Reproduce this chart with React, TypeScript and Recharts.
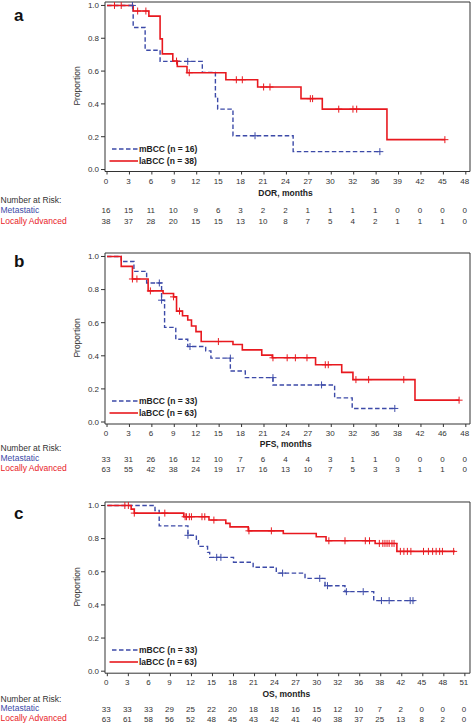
import React from 'react';
import { ComposedChart, Line, Scatter, XAxis, YAxis, Legend, ReferenceLine } from 'recharts';

const FONT = '"Liberation Sans", Arial, Helvetica, sans-serif';
const BLUE = '#3c4aa8';
const RED = '#e8191f';
const INK = '#333333';

// ---------- Panel a : DOR ----------
const aTickLabels = ['0', '3', '6', '9', '12', '15', '18', '21', '24', '27', '30', '32', '36', '39', '42', '45', '48'];
const aMetRisk = [16, 15, 11, 10, 9, 6, 3, 2, 2, 1, 1, 1, 1, 0, 0, 0, 0];
const aLaRisk = [38, 37, 28, 20, 15, 15, 13, 10, 8, 7, 5, 4, 2, 1, 1, 1, 0];
const aMetT = [0, 3.5, 5.1, 7.1, 12.75, 14.5, 14.8, 16.85, 24.9, 36.5];
const aMetS = [1, 0.866, 0.727, 0.659, 0.592, 0.444, 0.368, 0.206, 0.109, 0.109];
const aMetCensT = [3.4, 10.8, 19.8, 36.5];
const aMetCensS = [1, 0.659, 0.206, 0.109];
const aLaT = [0, 3.5, 5.6, 7.1, 7.4, 8.8, 9.4, 10.7, 15.9, 20.15, 25.95, 28.8, 37.45, 45.2];
const aLaS = [1, 0.966, 0.935, 0.796, 0.705, 0.661, 0.628, 0.59, 0.547, 0.503, 0.432, 0.368, 0.182, 0.182];
const aLaCensT = [1.0, 1.9, 4.1, 5.2, 9.3, 11.0, 17.3, 18.1, 20.95, 21.8, 27.2, 27.5, 31.0, 32.9, 33.4, 45.2];
const aLaCensS = [1, 1, 0.966, 0.966, 0.661, 0.59, 0.547, 0.547, 0.503, 0.503, 0.432, 0.432, 0.368, 0.368, 0.368, 0.182];

// ---------- Panel b : PFS ----------
const bTickLabels = ['0', '3', '6', '9', '12', '15', '18', '21', '24', '27', '30', '32', '36', '38', '42', '46', '48'];
const bMetRisk = [33, 31, 26, 16, 12, 10, 7, 6, 4, 4, 3, 1, 1, 0, 0, 0, 0];
const bLaRisk = [63, 55, 42, 38, 24, 19, 17, 16, 13, 10, 7, 5, 3, 3, 1, 1, 0];
const bMetT = [0, 1.9, 3.6, 5.3, 7.3, 7.7, 9.2, 10.8, 13.2, 13.9, 16.5, 18.5, 22.2, 30.45, 32.8, 38.5];
const bMetS = [1, 0.97, 0.91, 0.84, 0.736, 0.572, 0.5, 0.456, 0.43, 0.386, 0.308, 0.268, 0.224, 0.146, 0.082, 0.082];
const bMetCensT = [7.0, 7.3, 11.1, 16.5, 22.2, 28.7, 38.5];
const bMetCensS = [0.84, 0.736, 0.456, 0.386, 0.268, 0.224, 0.082];
const bLaT = [0, 1.9, 3.4, 5.5, 7.5, 8.9, 9.3, 10.1, 10.8, 11.3, 11.9, 12.6, 16.85, 18.1, 20.7, 22.1, 27.9, 31.4, 32.9, 41.2, 47.1];
const bLaS = [1, 0.94, 0.864, 0.792, 0.776, 0.756, 0.67, 0.642, 0.616, 0.58, 0.546, 0.486, 0.468, 0.436, 0.404, 0.388, 0.346, 0.3, 0.256, 0.132, 0.132];
const bLaCensT = [3.4, 4.0, 5.8, 8.9, 9.7, 14.9, 22.2, 24.1, 25.2, 26.75, 29.2, 29.6, 33.3, 35.0, 39.7, 47.1];
const bLaCensS = [0.864, 0.864, 0.792, 0.756, 0.67, 0.486, 0.388, 0.388, 0.388, 0.388, 0.346, 0.346, 0.256, 0.256, 0.256, 0.132];

// ---------- Panel c : OS ----------
const cTickLabels = ['0', '3', '6', '9', '12', '15', '18', '21', '24', '27', '30', '32', '36', '38', '42', '45', '48', '51'];
const cMetRisk = [33, 33, 33, 29, 25, 22, 20, 18, 18, 16, 15, 12, 10, 7, 2, 0, 0, 0];
const cLaRisk = [63, 61, 58, 56, 52, 48, 45, 43, 42, 41, 40, 38, 37, 25, 13, 8, 2, 0];
const cMetT = [0, 6.8, 7.4, 11.5, 12.7, 13.0, 14.3, 14.6, 18.0, 20.8, 24.1, 28.2, 31.05, 33.9, 38.0, 43.9];
const cMetS = [1, 0.97, 0.877, 0.82, 0.787, 0.753, 0.717, 0.687, 0.657, 0.627, 0.592, 0.56, 0.516, 0.48, 0.426, 0.426];
const cMetCensT = [11.5, 15.6, 16.2, 25.0, 30.3, 31.4, 34.1, 36.5, 39.1, 40.2, 43.2, 43.6];
const cMetCensS = [0.82, 0.687, 0.687, 0.592, 0.56, 0.516, 0.48, 0.48, 0.426, 0.426, 0.426, 0.426];
const cLaT = [0, 3.4, 3.85, 10.9, 14.5, 16.9, 17.5, 20.1, 25.1, 29.8, 31.2, 38.2, 41.3, 49.6];
const cLaS = [1, 0.978, 0.954, 0.932, 0.912, 0.892, 0.871, 0.847, 0.831, 0.811, 0.787, 0.771, 0.723, 0.723];
const cLaCensT = [2.5, 3.0, 3.85, 8.2, 11.1, 11.3, 11.7, 12.0, 13.5, 13.9, 15.2, 20.2, 23.4, 31.6, 33.9, 36.8, 37.4,
  38.8, 39.3, 39.6, 39.9, 40.2, 40.6, 40.9, 41.8, 42.3, 42.8, 43.3, 45.1, 45.8, 46.4, 46.9, 47.4, 47.8, 49.4];
const cLaCensS = [1, 1, 0.954, 0.954, 0.932, 0.932, 0.932, 0.932, 0.932, 0.932, 0.912, 0.847, 0.847, 0.787, 0.787, 0.787, 0.787,
  0.771, 0.771, 0.771, 0.771, 0.771, 0.771, 0.771, 0.723, 0.723, 0.723, 0.723, 0.723, 0.723, 0.723, 0.723, 0.723, 0.723, 0.723];

const zip = (t: number[], s: number[]) => t.map((v, i) => ({ t: v, s: s[i] }));

const Y_DOMAIN: [number, number] = [-0.012, 1.021];
const Y_TICKS = [0, 0.2, 0.4, 0.6, 0.8, 1.0];

const plus = (color: string) => (p: any) => (
  <path
    d={`M${p.cx - 3.5},${p.cy}H${p.cx + 3.5}M${p.cx},${p.cy - 3.5}V${p.cy + 3.5}`}
    stroke={color}
    strokeWidth={1}
    fill="none"
  />
);

type PanelProps = {
  top: number;
  plotH: number;
  bottomH: number;
  xDomain: [number, number];
  tickLabels: string[];
  metRisk: number[];
  laRisk: number[];
  met: { t: number; s: number }[];
  la: { t: number; s: number }[];
  metCens: { t: number; s: number }[];
  laCens: { t: number; s: number }[];
  nMet: number;
  nLa: number;
  offs: { tick: number; met: number; la: number };
};

function Panel(props: PanelProps) {
  const { top, plotH, bottomH, xDomain, tickLabels, metRisk, laRisk, met, la, metCens, laCens, nMet, nLa, offs } = props;
  const marginTop = 2;
  const axisY = marginTop + plotH;
  const H = marginTop + plotH + bottomH;
  const ticks = tickLabels.map((_, i) => i * 3);

  const XTick = (p: any) => {
    const { x, payload } = p;
    const i = ticks.findIndex((v) => Math.abs(v - payload.value) < 1e-6);
    if (i < 0) return null;
    const common = { textAnchor: 'middle' as const, fontFamily: FONT, fontSize: 8, fill: INK };
    return (
      <g>
        <text x={x - 1} y={axisY + offs.tick} {...common}>{tickLabels[i]}</text>
        <text x={x - 1} y={axisY + offs.met} {...common}>{metRisk[i]}</text>
        <text x={x - 1} y={axisY + offs.la} {...common}>{laRisk[i]}</text>
      </g>
    );
  };

  const LegendContent = () => (
    <div style={{ fontFamily: FONT, fontSize: 8.5, fontWeight: 'bold', color: '#222', lineHeight: '12px' }}>
      <div style={{ display: 'flex', alignItems: 'center', height: 12 }}>
        <svg width={31} height={12} style={{ display: 'block' }}>
          <line x1={4} x2={30} y1={6} y2={6} stroke={BLUE} strokeWidth={1.4} strokeDasharray="4.5 2.5" />
        </svg>
        <span style={{ whiteSpace: 'nowrap' }}>{`mBCC (n = ${nMet})`}</span>
      </div>
      <div style={{ display: 'flex', alignItems: 'center', height: 12 }}>
        <svg width={31} height={12} style={{ display: 'block' }}>
          <line x1={1.5} x2={30} y1={6} y2={6} stroke={RED} strokeWidth={1.6} />
        </svg>
        <span style={{ whiteSpace: 'nowrap' }}>{`laBCC (n = ${nLa})`}</span>
      </div>
    </div>
  );

  return (
    <div style={{ position: 'absolute', left: 0, top, width: 472, height: H }}>
      <ComposedChart width={472} height={H} margin={{ top: marginTop, right: 2, bottom: 0, left: 0 }}>
        <XAxis
          type="number"
          dataKey="t"
          domain={xDomain}
          allowDataOverflow
          ticks={ticks}
          interval={0}
          height={bottomH}
          tickSize={3}
          tickLine={{ stroke: INK }}
          axisLine={{ stroke: INK }}
          tick={<XTick />}
        />
        <YAxis
          type="number"
          domain={Y_DOMAIN}
          allowDataOverflow
          ticks={Y_TICKS}
          interval={0}
          width={105}
          tickSize={4}
          tickMargin={2}
          tickLine={{ stroke: INK }}
          axisLine={{ stroke: INK }}
          tickFormatter={(v: number) => v.toFixed(1)}
          tick={{ fontSize: 8, fill: INK, fontFamily: FONT }}
        />
        <ReferenceLine y={Y_DOMAIN[1]} stroke={INK} strokeWidth={1} ifOverflow="visible" />
        <ReferenceLine x={xDomain[1]} stroke={INK} strokeWidth={1} ifOverflow="visible" />
        <Line
          data={met}
          dataKey="s"
          type="stepAfter"
          stroke={BLUE}
          strokeWidth={1.4}
          strokeDasharray="4.5 2.5"
          dot={false}
          activeDot={false}
          isAnimationActive={false}
        />
        <Line
          data={la}
          dataKey="s"
          type="stepAfter"
          stroke={RED}
          strokeWidth={1.6}
          dot={false}
          activeDot={false}
          isAnimationActive={false}
        />
        <Scatter data={metCens} dataKey="s" shape={plus(BLUE)} isAnimationActive={false} />
        <Scatter data={laCens} dataKey="s" shape={plus(RED)} isAnimationActive={false} />
        <Legend
          verticalAlign="middle"
          align="center"
          layout="horizontal"
          content={<LegendContent />}
          wrapperStyle={{ position: 'absolute', left: 108, top: axisY - 29, width: 130, height: 24 }}
        />
      </ComposedChart>
    </div>
  );
}

const txt = { fontFamily: FONT, fontSize: 8.5, fill: INK };

export default function App() {
  return (
    <div style={{ position: 'absolute', left: 0, top: 0, width: 472, height: 725, background: '#fff', overflow: 'hidden' }}>
      <Panel
        top={0}
        plotH={169.5}
        bottomH={56}
        xDomain={[-0.27, 48.56]}
        tickLabels={aTickLabels}
        metRisk={aMetRisk}
        laRisk={aLaRisk}
        met={zip(aMetT, aMetS)}
        la={zip(aLaT, aLaS)}
        metCens={zip(aMetCensT, aMetCensS)}
        laCens={zip(aLaCensT, aLaCensS)}
        nMet={16}
        nLa={38}
        offs={{ tick: 12.3, met: 41.3, la: 52 }}
      />
      <Panel
        top={250.5}
        plotH={171}
        bottomH={52}
        xDomain={[-0.27, 48.56]}
        tickLabels={bTickLabels}
        metRisk={bMetRisk}
        laRisk={bLaRisk}
        met={zip(bMetT, bMetS)}
        la={zip(bLaT, bLaS)}
        metCens={zip(bMetCensT, bMetCensS)}
        laCens={zip(bLaCensT, bLaCensS)}
        nMet={33}
        nLa={63}
        offs={{ tick: 12, met: 38.3, la: 48.3 }}
      />
      <Panel
        top={499.5}
        plotH={171.2}
        bottomH={52}
        xDomain={[-0.33, 51.73]}
        tickLabels={cTickLabels}
        metRisk={cMetRisk}
        laRisk={cLaRisk}
        met={zip(cMetT, cMetS)}
        la={zip(cLaT, cLaS)}
        metCens={zip(cMetCensT, cMetCensS)}
        laCens={zip(cLaCensT, cLaCensS)}
        nMet={33}
        nLa={63}
        offs={{ tick: 12.2, met: 38.8, la: 48.8 }}
      />
      <svg width={472} height={725} style={{ position: 'absolute', left: 0, top: 0, pointerEvents: 'none' }}>
        <text x={14} y={20.7} fontFamily={FONT} fontSize={17} fontWeight="bold" fill="#111">a</text>
        <text x={14} y={266.7} fontFamily={FONT} fontSize={17} fontWeight="bold" fill="#111">b</text>
        <text x={14} y={519.3} fontFamily={FONT} fontSize={17} fontWeight="bold" fill="#111">c</text>

        <text x={77} y={86} transform="rotate(-90, 77, 86)" textAnchor="middle" dominantBaseline="central" {...txt}>Proportion</text>
        <text x={77} y={338} transform="rotate(-90, 77, 338)" textAnchor="middle" dominantBaseline="central" {...txt}>Proportion</text>
        <text x={77} y={587} transform="rotate(-90, 77, 587)" textAnchor="middle" dominantBaseline="central" {...txt}>Proportion</text>

        <text x={285.5} y={195.7} textAnchor="middle" {...txt} fontWeight="bold" fill="#222">DOR, months</text>
        <text x={285.8} y={447.3} textAnchor="middle" {...txt} fontWeight="bold" fill="#222">PFS, months</text>
        <text x={286.3} y={697} textAnchor="middle" {...txt} fontWeight="bold" fill="#222">OS, months</text>

        <text x={0.5} y={203} {...txt}>Number at Risk:</text>
        <text x={0.5} y={213.3} {...txt} fill={BLUE}>Metastatic</text>
        <text x={0.5} y={223.7} {...txt} fill={RED}>Locally Advanced</text>

        <text x={0.5} y={451.3} {...txt}>Number at Risk:</text>
        <text x={0.5} y={461.3} {...txt} fill={BLUE}>Metastatic</text>
        <text x={0.5} y={471.3} {...txt} fill={RED}>Locally Advanced</text>

        <text x={0.5} y={702} {...txt}>Number at Risk:</text>
        <text x={0.5} y={711.3} {...txt} fill={BLUE}>Metastatic</text>
        <text x={0.5} y={721.3} {...txt} fill={RED}>Locally Advanced</text>
      </svg>
    </div>
  );
}
